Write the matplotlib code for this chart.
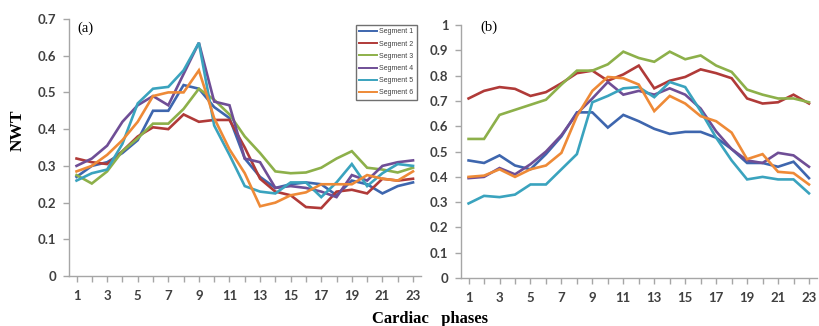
import numpy as np
import matplotlib
matplotlib.use("Agg")
import matplotlib.pyplot as plt

# ----------------------------------------------------------
# DATA
# ----------------------------------------------------------
phases = list(range(1, 24))
segment_names = ["Segment 1", "Segment 2", "Segment 3",
                 "Segment 4", "Segment 5", "Segment 6"]

seg_a1 = [0.27, 0.30, 0.31, 0.335, 0.37, 0.45, 0.45, 0.52, 0.51, 0.46, 0.43, 0.32,
          0.27, 0.24, 0.25, 0.255, 0.25, 0.22, 0.26, 0.25, 0.225, 0.245, 0.255]
seg_a2 = [0.32, 0.31, 0.305, 0.34, 0.38, 0.405, 0.40, 0.44, 0.42, 0.425, 0.425, 0.35,
          0.265, 0.23, 0.22, 0.188, 0.185, 0.23, 0.235, 0.225, 0.265, 0.26, 0.265]
seg_a3 = [0.275, 0.252, 0.285, 0.34, 0.375, 0.415, 0.415, 0.455, 0.51, 0.48, 0.44, 0.38,
          0.335, 0.285, 0.28, 0.282, 0.295, 0.32, 0.34, 0.295, 0.29, 0.282, 0.295]
seg_a4 = [0.30, 0.32, 0.355, 0.42, 0.465, 0.49, 0.465, 0.55, 0.635, 0.475, 0.465, 0.32,
          0.31, 0.24, 0.245, 0.24, 0.23, 0.215, 0.275, 0.26, 0.30, 0.31, 0.315]
seg_a5 = [0.26, 0.28, 0.29, 0.36, 0.47, 0.51, 0.515, 0.56, 0.635, 0.41, 0.33, 0.245,
          0.23, 0.225, 0.255, 0.255, 0.215, 0.255, 0.305, 0.245, 0.28, 0.305, 0.30]
seg_a6 = [0.285, 0.30, 0.33, 0.37, 0.42, 0.49, 0.50, 0.50, 0.56, 0.43, 0.345, 0.28,
          0.19, 0.20, 0.22, 0.228, 0.25, 0.25, 0.25, 0.275, 0.265, 0.26, 0.285]

seg_b1 = [0.465, 0.455, 0.485, 0.445, 0.43, 0.49, 0.56, 0.655, 0.655, 0.595, 0.645, 0.62,
          0.59, 0.57, 0.578, 0.578, 0.555, 0.51, 0.455, 0.455, 0.44, 0.46, 0.395]
seg_b2 = [0.71, 0.74, 0.755, 0.748, 0.72, 0.735, 0.77, 0.81, 0.82, 0.78, 0.805, 0.84,
          0.75, 0.78, 0.795, 0.825, 0.81, 0.79, 0.71, 0.69, 0.695, 0.725, 0.69]
seg_b3 = [0.55, 0.55, 0.645, 0.665, 0.685, 0.705, 0.765, 0.82, 0.82, 0.845, 0.895, 0.87,
          0.855, 0.895, 0.865, 0.88, 0.84, 0.815, 0.745, 0.725, 0.71, 0.71, 0.695]
seg_b4 = [0.395, 0.40, 0.435, 0.41, 0.45, 0.50, 0.565, 0.65, 0.71, 0.775, 0.725, 0.74,
          0.725, 0.75, 0.725, 0.67, 0.58, 0.51, 0.465, 0.455, 0.495, 0.485, 0.44]
seg_b5 = [0.295, 0.325, 0.32, 0.33, 0.37, 0.37, 0.43, 0.49, 0.695, 0.72, 0.75, 0.755,
          0.715, 0.775, 0.755, 0.66, 0.555, 0.465, 0.39, 0.40, 0.39, 0.39, 0.335]
seg_b6 = [0.40, 0.405, 0.43, 0.40, 0.43, 0.445, 0.495, 0.64, 0.74, 0.795, 0.79, 0.765,
          0.66, 0.72, 0.69, 0.64, 0.62, 0.575, 0.47, 0.49, 0.42, 0.415, 0.37]

yticks_a = [0, 0.1, 0.2, 0.3, 0.4, 0.5, 0.6, 0.7]
yticks_b = [0, 0.1, 0.2, 0.3, 0.4, 0.5, 0.6, 0.7, 0.8, 0.9, 1]
ylabels_b = ["0", "0.1", "0.2", "0.3", "0.4", "0.5", "0.6", "0.7", "0.8", "0.9", "1"]
xtick_labels = list(range(1, 24, 2))

colors = ["#3E66AE", "#B03A38", "#8DB04A", "#6F4E96", "#3AA3BE", "#EE8A37"]

# ----------------------------------------------------------
# FIGURE
# ----------------------------------------------------------
fig = plt.figure(figsize=(8.2, 3.26), dpi=100)
ax_a = fig.add_axes([0.084, 0.153, 0.429, 0.789])
ax_b = fig.add_axes([0.562, 0.147, 0.434, 0.776])

tick_font = dict(family="Lato", weight="bold", size=9.5, color="#404040")
axis_gray = "#A6A6A6"


def style_axes(ax, ymax, yticks, ylabels=None):
    ax.set_xlim(0.5, 23.5)
    ax.set_ylim(0, ymax)
    for side in ["top", "right"]:
        ax.spines[side].set_visible(False)
    for side in ["left", "bottom"]:
        ax.spines[side].set_color(axis_gray)
        ax.spines[side].set_linewidth(1.0)
    ax.set_xticks(xtick_labels)
    ax.set_xticks(phases, minor=True)
    ax.set_xticklabels([str(v) for v in xtick_labels], fontdict=tick_font)
    ax.set_yticks(yticks)
    if ylabels is None:
        ylabels = ["0" if v == 0 else f"{v:g}" for v in yticks]
    ax.set_yticklabels(ylabels, fontdict=tick_font)
    ax.tick_params(axis="both", which="both", direction="out",
                   color=axis_gray, length=4, width=1)
    ax.tick_params(axis="x", which="major", pad=6)
    ax.tick_params(axis="y", pad=5)


series_a = [seg_a1, seg_a2, seg_a3, seg_a4, seg_a5, seg_a6]
series_b = [seg_b1, seg_b2, seg_b3, seg_b4, seg_b5, seg_b6]

for vals, name, c in zip(series_a, segment_names, colors):
    ax_a.plot(phases, vals, color=c, lw=1.9, label=name, solid_joinstyle="miter")
for vals, name, c in zip(series_b, segment_names, colors):
    ax_b.plot(phases, vals, color=c, lw=1.9, label=name, solid_joinstyle="miter")

style_axes(ax_a, 0.7, yticks_a)
style_axes(ax_b, 1.0, yticks_b, ylabels_b)

# panel labels
ax_a.text(0.025, 0.99, "(a)", transform=ax_a.transAxes, ha="left", va="top",
          family="Liberation Serif", fontsize=10.5)
ax_b.text(0.055, 1.02, "(b)", transform=ax_b.transAxes, ha="left", va="top",
          family="Liberation Serif", fontsize=10.5)

# legend
leg = ax_a.legend(loc="upper right", bbox_to_anchor=(1.0, 0.99), fontsize=5,
                  handlelength=2.6, handletextpad=0.3, labelspacing=0.75,
                  borderpad=0.5, fancybox=False, framealpha=1,
                  edgecolor="#707070")
leg.get_frame().set_linewidth(1.0)
for t in leg.get_texts():
    t.set_color("#404040")
    t.set_fontfamily("Liberation Sans")
for line in leg.get_lines():
    line.set_linewidth(1.4)

# axis labels
fig.text(0.021, 0.60, "NWT", rotation=90, ha="center", va="center",
         family="Liberation Serif", weight="bold", fontsize=12.5)
fig.text(0.524, 0.022, "Cardiac   phases", ha="center", va="center",
         family="Liberation Serif", weight="bold", fontsize=12)

fig.savefig("out.png", dpi=100)
